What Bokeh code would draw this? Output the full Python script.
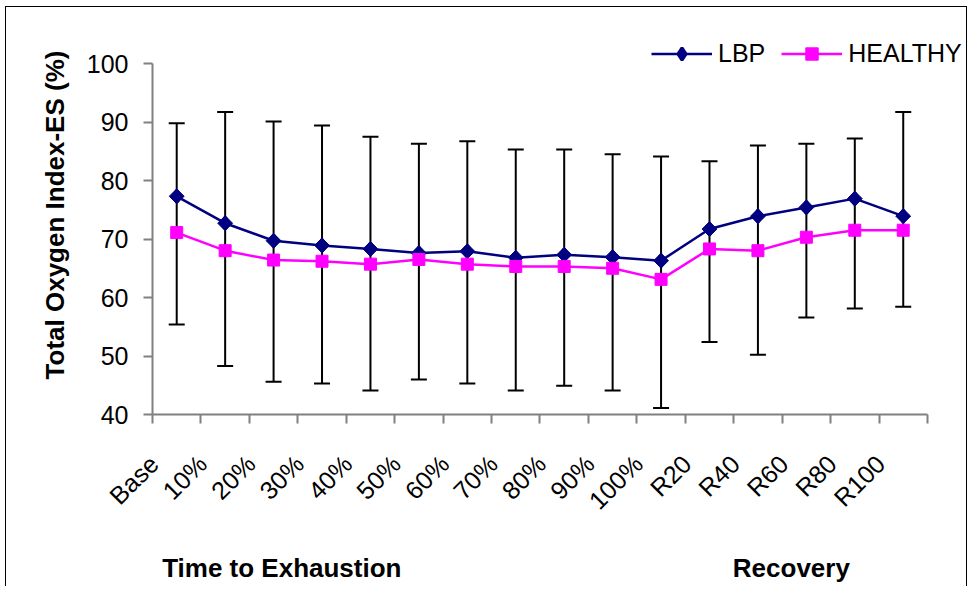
import math
from bokeh.plotting import figure
from bokeh.models import (ColumnDataSource, FixedTicker, Whisker, TeeHead,
                          Legend, LegendItem, Range1d, LinearAxis)
from bokeh.embed import file_html
from bokeh.resources import INLINE

# ---------------- data ----------------
categories = ["Base", "10%", "20%", "30%", "40%", "50%", "60%", "70%", "80%",
              "90%", "100%", "R20", "R40", "R60", "R80", "R100"]
lbp = [77.3, 72.7, 69.7, 68.9, 68.3, 67.6, 67.9, 66.8, 67.3, 66.9, 66.3,
       71.7, 73.9, 75.4, 76.9, 73.9]
healthy = [71.1, 68.0, 66.4, 66.2, 65.7, 66.5, 65.7, 65.3, 65.3, 65.0, 63.1,
           68.3, 68.0, 70.3, 71.5, 71.5]
err_upper = [89.8, 91.7, 90.1, 89.4, 87.5, 86.3, 86.7, 85.3, 85.3, 84.5, 84.1,
             83.3, 86.0, 86.3, 87.2, 91.7]
err_lower = [55.4, 48.3, 45.6, 45.3, 44.1, 46.0, 45.3, 44.1, 44.9, 44.1, 41.1,
             52.4, 50.2, 56.6, 58.1, 58.4]
y_ticks = [40, 50, 60, 70, 80, 90, 100]
series_names = ["LBP", "HEALTHY"]
y_title = "Total Oxygen Index-ES (%)"
phase_labels = ["Time to Exhaustion", "Recovery"]
phase_centres = [2.67, 13.19]  # in category units along the x axis

FONT = "Liberation Sans"
NAVY = "#000080"
MAGENTA = "#FF00FF"
GREY = "#808080"

n = len(categories)
xs = [i + 0.5 for i in range(n)]
label_shift = 0.47  # rotated labels end a little left of the category centre
xs_lab = [x - label_shift for x in xs]

src = ColumnDataSource(dict(x=xs, lbp=lbp, healthy=healthy,
                            upper=err_upper, lower=err_lower))

# frame extends above 100 and right of the last category so the legend fits;
# axis bounds keep the axis lines at the data extent
PX_X = 48.375
PX_Y = 5.85
x_end = n + (967 - 152 - n * PX_X) / PX_X
y_end = y_ticks[-1] + (63 - 15) / PX_Y

p = figure(width=962, height=580, output_backend="svg", toolbar_location=None,
           x_range=Range1d(0, x_end), y_range=Range1d(y_ticks[0], y_end),
           min_border_left=146, min_border_right=0, min_border_top=8,
           min_border_bottom=173)
p.styles = {"border-left": "1px solid black", "border-top": "1px solid black",
            "border-right": "1px solid black", "margin-left": "5px",
            "margin-top": "6px"}
p.background_fill_color = "white"
p.border_fill_color = "white"
p.outline_line_color = None
p.xgrid.grid_line_color = None
p.ygrid.grid_line_color = None

# y axis
yax = p.yaxis[0]
yax.bounds = (y_ticks[0], y_ticks[-1])
yax.ticker = FixedTicker(ticks=y_ticks)
yax.axis_line_color = GREY
yax.axis_line_width = 2
yax.major_tick_line_color = GREY
yax.major_tick_line_width = 2
yax.major_tick_out = 9
yax.major_tick_in = 0
yax.minor_tick_line_color = None
yax.major_label_text_font = FONT
yax.major_label_text_font_size = "25px"
yax.major_label_text_color = "black"
yax.major_label_standoff = 15
yax.axis_label = y_title
yax.axis_label_text_font = FONT
yax.axis_label_text_font_size = "26px"
yax.axis_label_text_font_style = "bold"
yax.axis_label_text_color = "black"
yax.axis_label_standoff = 14

# x axis: labels near category centres, tick marks at category boundaries
xax = p.xaxis[0]
xax.bounds = (0, n)
xax.ticker = FixedTicker(ticks=xs_lab, minor_ticks=list(range(n + 1)))
xax.major_label_overrides = {x: c for x, c in zip(xs_lab, categories)}
xax.major_label_orientation = math.pi / 4
xax.major_tick_line_color = None
xax.major_tick_out = 0
xax.major_tick_in = 0
xax.minor_tick_line_color = GREY
xax.minor_tick_line_width = 2
xax.minor_tick_out = 9
xax.minor_tick_in = 0
xax.axis_line_color = GREY
xax.axis_line_width = 2
xax.major_label_text_font = FONT
xax.major_label_text_font_size = "25px"
xax.major_label_text_color = "black"
xax.major_label_standoff = 36

# phase labels as a second, line-less axis below
pax = LinearAxis(ticker=FixedTicker(ticks=phase_centres, minor_ticks=[]),
                 major_label_overrides={c: t for c, t in zip(phase_centres, phase_labels)},
                 axis_line_color=None, major_tick_line_color=None,
                 minor_tick_line_color=None, major_tick_out=0, major_tick_in=0,
                 major_label_text_font=FONT, major_label_text_font_size="26px",
                 major_label_text_font_style="bold", major_label_text_color="black",
                 major_label_standoff=25)
p.add_layout(pax, "below")

# error bars
wh = Whisker(source=src, base="x", upper="upper", lower="lower",
             line_color="black", line_width=2, level="underlay",
             upper_head=TeeHead(size=16, line_color="black", line_width=2),
             lower_head=TeeHead(size=16, line_color="black", line_width=2))
p.add_layout(wh)

l1 = p.line("x", "lbp", source=src, line_color=NAVY, line_width=2.5)
# diamond marker used for the legend key (hidden under the plot markers)
s1_key = p.scatter("x", "lbp", source=src, marker="diamond", size=12,
                   fill_color=NAVY, line_color=NAVY, line_width=3)
s1 = p.scatter("x", "lbp", source=src, marker="square", size=10.5,
               angle=math.pi / 4, fill_color=NAVY, line_color=NAVY)
l2 = p.line("x", "healthy", source=src, line_color=MAGENTA, line_width=2.5)
s2 = p.scatter("x", "healthy", source=src, marker="square", size=12,
               fill_color=MAGENTA, line_color=MAGENTA)

legend = Legend(items=[LegendItem(label=series_names[0], renderers=[l1, s1_key]),
                       LegendItem(label=series_names[1], renderers=[l2, s2])],
                orientation="horizontal", location=(499, 345),
                glyph_width=61, glyph_height=31, label_standoff=6, spacing=16,
                padding=0, margin=0, border_line_color=None,
                background_fill_alpha=0, label_text_font=FONT,
                label_text_font_size="25px", label_text_color="black")
p.add_layout(legend)

open("out.html", "w").write(file_html(p, INLINE))
